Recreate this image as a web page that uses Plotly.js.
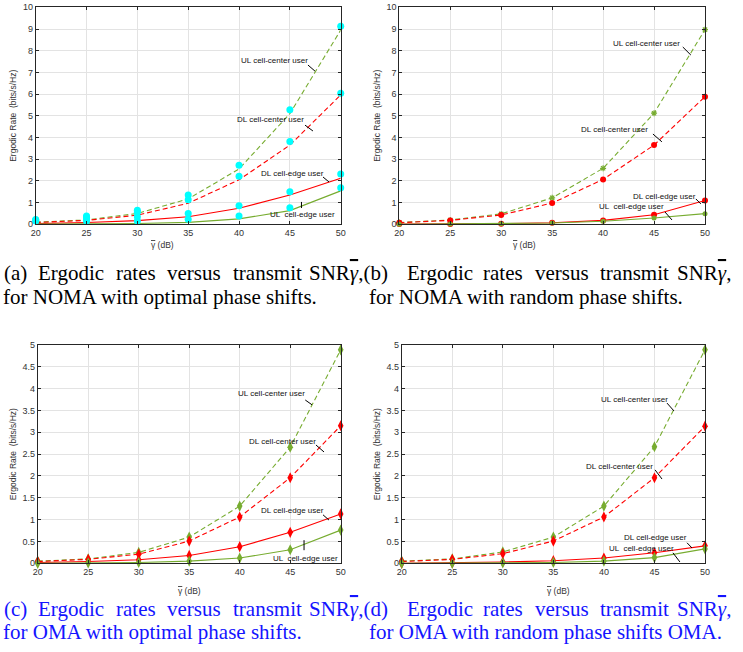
<!DOCTYPE html>
<html>
<head>
<meta charset="utf-8">
<script src="https://cdn.plot.ly/plotly-3.0.1.min.js"></script>
<style>html,body{margin:0;padding:0;background:#fff;}#chart{width:743px;height:652px;}</style>
</head>
<body>
<div id="chart"></div>
<script>
// ---------- data ----------
const snr = [20, 25, 30, 35, 40, 45, 50];
const xTicks = [20, 25, 30, 35, 40, 45, 50];
const seriesNames = ['UL cell-center user', 'DL cell-center user', 'DL cell-edge user', 'UL  cell-edge user'];

// (a) NOMA, optimal phase shifts: analytical curves
const aUlCenter = [0.10, 0.20, 0.50, 1.17, 2.55, 5.10, 8.95];
const aDlCenter = [0.08, 0.18, 0.42, 0.97, 2.05, 3.65, 5.96];
const aDlEdge   = [0.03, 0.08, 0.17, 0.35, 0.74, 1.35, 2.12];
const aUlEdge   = [0.01, 0.02, 0.04, 0.09, 0.25, 0.63, 1.54];
// (a) simulation points
const aUlCenterSim = [0.22, 0.38, 0.65, 1.35, 2.72, 5.28, 9.13];
const aDlCenterSim = [0.18, 0.32, 0.55, 1.13, 2.22, 3.81, 6.04];
const aDlEdgeSim   = [0.20, 0.25, 0.35, 0.50, 0.86, 1.50, 2.32];
const aUlEdgeSim   = [0.15, 0.15, 0.15, 0.23, 0.38, 0.76, 1.68];

// (b) NOMA, random phase shifts
const bUlCenter = [0.08, 0.20, 0.48, 1.22, 2.58, 5.12, 8.97];
const bDlCenter = [0.07, 0.18, 0.43, 0.98, 2.07, 3.65, 5.88];
const bDlEdge   = [0.01, 0.01, 0.03, 0.07, 0.18, 0.44, 1.10];
const bUlEdge   = [0.00, 0.01, 0.02, 0.06, 0.14, 0.29, 0.49];

// (c) OMA, optimal phase shifts
const cUlCenter = [0.05, 0.10, 0.25, 0.60, 1.31, 2.66, 4.89];
const cDlCenter = [0.04, 0.09, 0.21, 0.51, 1.06, 1.96, 3.15];
const cDlEdge   = [0.02, 0.04, 0.08, 0.18, 0.38, 0.71, 1.13];
const cUlEdge   = [0.00, 0.01, 0.02, 0.05, 0.12, 0.31, 0.76];

// (d) OMA, random phase shifts
const dUlCenter = [0.05, 0.10, 0.26, 0.60, 1.31, 2.67, 4.89];
const dDlCenter = [0.04, 0.09, 0.22, 0.51, 1.06, 1.96, 3.14];
const dDlEdge   = [0.00, 0.01, 0.03, 0.06, 0.12, 0.24, 0.40];
const dUlEdge   = [0.00, 0.00, 0.01, 0.02, 0.05, 0.13, 0.33];

// ---------- styles ----------
const GREEN = '#77AC30', RED = '#FF0000', CYAN = '#00FFFF';
const SANS = 'Liberation Sans, Arial, sans-serif';
const SERIF = 'Liberation Serif, Times New Roman, serif';
const DASH = '5px,3px';
const GAMMA_BAR = '<span style="text-decoration:overline">γ</span>';

function line(xa, ya, y, color, dash, marker) {
  const t = {x: snr, y: y, xaxis: xa, yaxis: ya, type: 'scatter',
    mode: marker ? 'lines+markers' : 'lines', cliponaxis: false, showlegend: false,
    line: {color: color, width: 1.1, dash: dash}, hoverinfo: 'x+y'};
  if (marker) t.marker = marker;
  return t;
}
function pts(xa, ya, y) {
  return {x: snr, y: y, xaxis: xa, yaxis: ya, type: 'scatter', mode: 'markers', cliponaxis: false,
    showlegend: false, marker: {color: CYAN, size: 7, symbol: 'circle'}};
}

const data = [
  // (a)
  line('x', 'y', aUlCenter, GREEN, DASH),
  line('x', 'y', aDlCenter, RED, DASH),
  line('x', 'y', aDlEdge, RED, 'solid'),
  line('x', 'y', aUlEdge, GREEN, 'solid'),
  pts('x', 'y', aUlCenterSim), pts('x', 'y', aDlCenterSim),
  pts('x', 'y', aDlEdgeSim), pts('x', 'y', aUlEdgeSim),
  // (b)
  line('x2', 'y2', bUlCenter, GREEN, DASH, {symbol: 'asterisk-open', size: 5, color: GREEN, line: {color: GREEN, width: 1.2}}),
  line('x2', 'y2', bDlCenter, RED, DASH, {symbol: 'circle', size: 6, color: RED}),
  line('x2', 'y2', bDlEdge, RED, 'solid', {symbol: 'circle', size: 6, color: RED}),
  line('x2', 'y2', bUlEdge, GREEN, 'solid', {symbol: 'circle', size: 5, color: GREEN}),
  // (c)
  line('x3', 'y3', cUlCenter, GREEN, DASH, {symbol: 'diamond-tall', size: 8, color: GREEN}),
  line('x3', 'y3', cDlCenter, RED, DASH, {symbol: 'diamond-tall', size: 8, color: RED}),
  line('x3', 'y3', cDlEdge, RED, 'solid', {symbol: 'diamond-tall', size: 8, color: RED}),
  line('x3', 'y3', cUlEdge, GREEN, 'solid', {symbol: 'diamond-tall', size: 8, color: GREEN}),
  // (d)
  line('x4', 'y4', dUlCenter, GREEN, DASH, {symbol: 'diamond-tall', size: 8, color: GREEN}),
  line('x4', 'y4', dDlCenter, RED, DASH, {symbol: 'diamond-tall', size: 8, color: RED}),
  line('x4', 'y4', dDlEdge, RED, 'solid', {symbol: 'diamond-tall', size: 8, color: RED}),
  line('x4', 'y4', dUlEdge, GREEN, 'solid', {symbol: 'diamond-tall', size: 8, color: GREEN})
];

// ---------- layout ----------
const W = 743, H = 652;
function xax(l, r, anchor) {
  return {domain: [l / W, r / W], anchor: anchor, range: [20, 50], tickvals: xTicks,
    showgrid: true, gridcolor: '#e3e3e3', gridwidth: 1, zeroline: false,
    showline: true, linecolor: '#262626', linewidth: 1, mirror: 'ticks',
    ticks: 'inside', ticklen: 3, tickcolor: '#262626',
    tickfont: {family: SANS, size: 9, color: '#333'}};
}
function yax(t, b, anchor, top, dt) {
  return {domain: [1 - b / H, 1 - t / H], anchor: anchor, range: [0, top], dtick: dt,
    showgrid: true, gridcolor: '#e3e3e3', gridwidth: 1, zeroline: false,
    showline: true, linecolor: '#262626', linewidth: 1, mirror: 'ticks',
    ticks: 'inside', ticklen: 3, tickcolor: '#262626',
    tickfont: {family: SANS, size: 9, color: '#333'},
    title: {text: 'Ergodic Rate  (bits/s/Hz)', font: {family: SANS, size: 8.5, color: '#333'}, standoff: 4}};
}

const annotations = [];
const shapes = [];
function label(xr, yr, x, y, text, x0, y0, x1, y1) {
  annotations.push({xref: xr, yref: yr, x: x, y: y, text: text, showarrow: false,
    font: {family: SANS, size: 8, color: '#111'}, xanchor: 'center', yanchor: 'middle'});
  shapes.push({type: 'line', xref: xr, yref: yr, x0: x0, y0: y0, x1: x1, y1: y1,
    line: {color: '#000', width: 1}, layer: 'above'});
}
// (a)
label('x', 'y', 43.44, 7.53, seriesNames[0], 46.78, 7.34, 47.47, 7.06);
label('x', 'y', 43.14, 4.85, seriesNames[1], 46.49, 4.57, 47.27, 4.30);
label('x', 'y', 45.26, 2.36, seriesNames[2], 48.26, 2.18, 48.85, 1.95);
label('x', 'y', 46.24, 0.47, seriesNames[3], 46.14, 1.03, 46.14, 0.75);
// (b)
label('x2', 'y2', 44.21, 8.31, seriesNames[0], 47.82, 8.17, 48.61, 7.80);
label('x2', 'y2', 41.07, 4.39, seriesNames[1], 44.89, 4.16, 45.77, 3.80);
label('x2', 'y2', 45.98, 1.30, seriesNames[2], 49.10, 1.17, 49.59, 0.94);
label('x2', 'y2', 42.79, 0.80, seriesNames[3], 46.07, 0.57, 46.76, 0.20);
// (c)
label('x3', 'y3', 43.10, 3.88, seriesNames[0], 46.49, 3.74, 47.16, 3.63);
label('x3', 'y3', 44.19, 2.80, seriesNames[1], 47.55, 2.71, 48.35, 2.55);
label('x3', 'y3', 45.23, 1.22, seriesNames[2], 48.25, 1.11, 48.84, 0.99);
label('x3', 'y3', 46.47, 0.12, seriesNames[3], 46.37, 0.53, 46.37, 0.30);
// (d)
label('x4', 'y4', 42.98, 3.76, seriesNames[0], 46.24, 3.67, 46.93, 3.49);
label('x4', 'y4', 41.54, 2.21, seriesNames[1], 45.06, 2.14, 45.75, 1.93);
label('x4', 'y4', 45.15, 0.58, seriesNames[2], 48.22, 0.47, 48.72, 0.35);
label('x4', 'y4', 43.67, 0.35, seriesNames[3], 46.83, 0.24, 47.52, 0.03);

// x-axis titles
function xtitle(px, py) {
  annotations.push({xref: 'paper', yref: 'paper', x: px / W, y: 1 - py / H, text: GAMMA_BAR + ' (dB)',
    showarrow: false, xanchor: 'center', yanchor: 'middle', font: {family: SANS, size: 8.5, color: '#333'}});
}
xtitle(162, 245); xtitle(524, 245); xtitle(189, 591); xtitle(558, 591);

// captions
function cap(px, py, text, color) {
  annotations.push({xref: 'paper', yref: 'paper', x: px / W, y: 1 - py / H, text: text, showarrow: false,
    xanchor: 'left', yanchor: 'middle', font: {family: SERIF, size: 21, color: color}});
}
const line1Words = [[2, '(%A)'], [36, 'Ergodic'], [114, 'rates'], [165, 'versus'], [231, 'transmit'],
  [307, 'SNR<i>' + GAMMA_BAR + '</i>,(%B)'], [405, 'Ergodic'], [481, 'rates'], [533, 'versus'], [598, 'transmit'],
  [675, 'SNR<i>' + GAMMA_BAR + '</i>,']];
function captionRow(y1, y2, A, B, l2a, l2b, color) {
  line1Words.forEach(function (w) { cap(w[0], y1, w[1].replace('%A', A).replace('%B', B), color); });
  cap(1, y2, l2a, color);
  cap(367, y2, l2b, color);
}
captionRow(273, 297, 'a', 'b', 'for NOMA with optimal phase shifts.', 'for NOMA with random phase shifts.', '#000');
captionRow(609, 632, 'c', 'd', 'for OMA with optimal phase shifts.', 'for OMA with random phase shifts OMA.', '#1414ff');

const layout = {
  width: W, height: H, margin: {l: 0, r: 0, t: 0, b: 0},
  paper_bgcolor: '#fff', plot_bgcolor: '#fff', showlegend: false,
  xaxis: xax(35.7, 340.7, 'y'), yaxis: yax(7.3, 224.3, 'x', 10, 1),
  xaxis2: xax(399.3, 705, 'y2'), yaxis2: yax(7.3, 224.3, 'x2', 10, 1),
  xaxis3: xax(37.7, 340.7, 'y3'), yaxis3: yax(345, 563.3, 'x3', 5, 0.5),
  xaxis4: xax(401.7, 705, 'y4'), yaxis4: yax(345, 563.3, 'x4', 5, 0.5),
  annotations: annotations, shapes: shapes
};

Plotly.newPlot('chart', data, layout, {displayModeBar: false, staticPlot: true});
</script>
</body>
</html>
